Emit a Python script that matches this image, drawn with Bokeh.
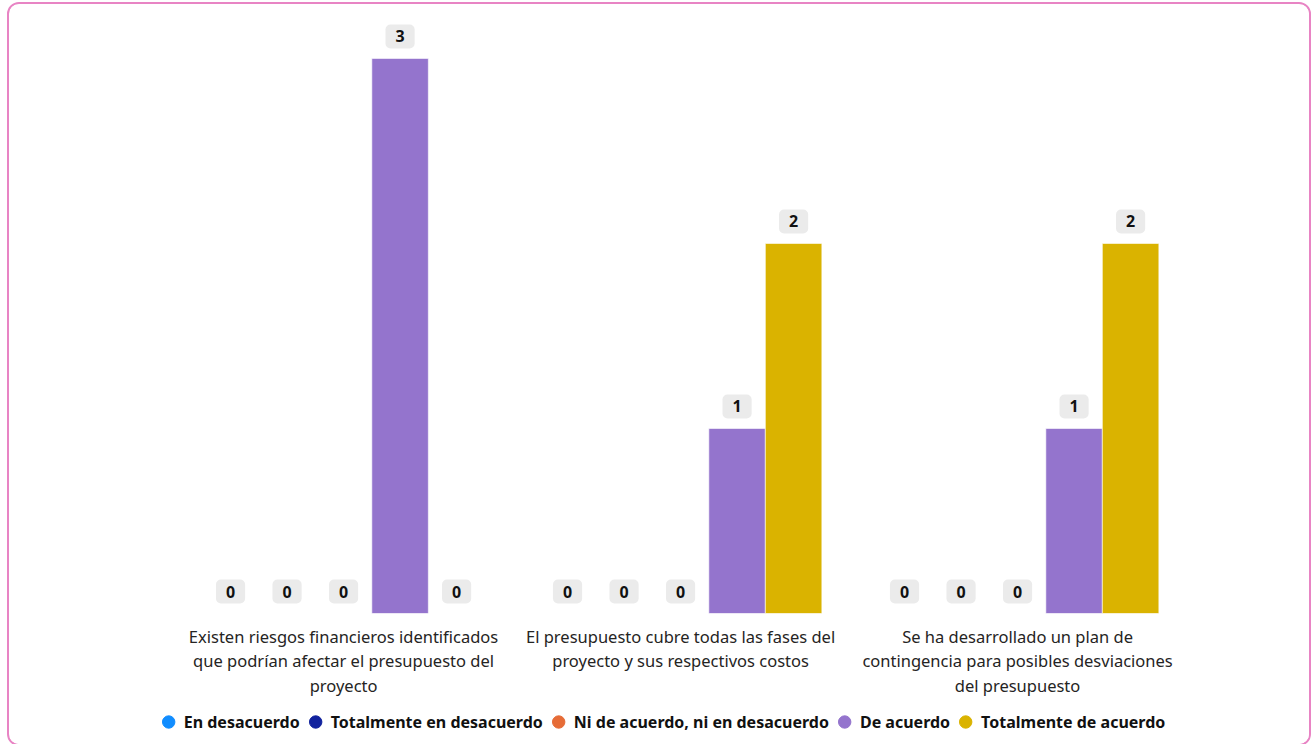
from bokeh.plotting import figure
from bokeh.layouts import column
from bokeh.models import ColumnDataSource, Range1d, FixedTicker, Legend, LegendItem
from bokeh.embed import file_html
from bokeh.resources import INLINE
from bokeh.core.properties import value

# --- data -----------------------------------------------------------------
categories = [
    "Existen riesgos financieros identificados\nque podrían afectar el presupuesto del\nproyecto",
    "El presupuesto cubre todas las fases del\nproyecto y sus respectivos costos",
    "Se ha desarrollado un plan de\ncontingencia para posibles desviaciones\ndel presupuesto",
]
series = [
    "En desacuerdo",
    "Totalmente en desacuerdo",
    "Ni de acuerdo, ni en desacuerdo",
    "De acuerdo",
    "Totalmente de acuerdo",
]
counts = {
    "En desacuerdo": [0, 0, 0],
    "Totalmente en desacuerdo": [0, 0, 0],
    "Ni de acuerdo, ni en desacuerdo": [0, 0, 0],
    "De acuerdo": [3, 1, 1],
    "Totalmente de acuerdo": [0, 2, 2],
}
colors = ["#118dff", "#12239e", "#e66c37", "#9474cd", "#dab300"]

FONT = "Noto Sans"
BAR_W = 0.1677
W = 1300


def bare(fig):
    fig.outline_line_color = None
    fig.background_fill_color = "white"
    fig.border_fill_color = "white"
    fig.xgrid.visible = False
    fig.ygrid.visible = False


# --- bar chart ------------------------------------------------------------
p = figure(width=W, height=700, output_backend="svg", toolbar_location=None,
           x_range=Range1d(-0.926, 2.801), y_range=Range1d(0, 3.205),
           min_border_left=22, min_border_right=22, min_border_top=16,
           min_border_bottom=91)
bare(p)
p.yaxis.visible = False

for i, (name, col) in enumerate(zip(series, colors)):
    offset = (i - 2) * BAR_W
    xs = [k + offset for k in range(len(categories))]
    vals = counts[name]
    src = ColumnDataSource(dict(x=xs, top=vals, label=[str(v) for v in vals]))
    p.vbar(x="x", top="top", width=BAR_W, source=src, fill_color=col,
           line_color="white", line_width=0.6)
    p.text(x="x", y="top", text="label", source=src, text_align="center",
           text_baseline="middle", y_offset=-22, text_font=value(FONT),
           text_font_size="16px", text_font_style="bold", text_color="#111111",
           background_fill_color="#ebebeb", border_radius=5, padding=(10, 6))

ax = p.xaxis[0]
ax.ticker = FixedTicker(ticks=list(range(len(categories))))
ax.major_label_overrides = {i: c for i, c in enumerate(categories)}
ax.axis_line_color = None
ax.major_tick_line_color = None
ax.minor_tick_line_color = None
ax.major_label_text_font = FONT
ax.major_label_text_font_size = "16.5px"
ax.major_label_text_color = "#252423"
ax.major_label_text_line_height = 1.07
ax.major_label_standoff = 5

# --- legend strip ---------------------------------------------------------
lg = figure(width=W, height=40, output_backend="svg", toolbar_location=None,
            x_range=Range1d(0, 1), y_range=Range1d(0, 1),
            min_border=0)
bare(lg)
lg.xaxis.visible = False
lg.yaxis.visible = False

legend_items = []
for name, col in zip(series, colors):
    # swatch renderer: one circle kept outside the visible range
    r = lg.scatter(x=[-5], y=[-5], marker="circle", fill_color=col, line_color=col)
    legend_items.append(LegendItem(label=name, renderers=[r]))

legend = Legend(items=legend_items, orientation="horizontal", location="top_center",
                glyph_width=31, glyph_height=31, label_standoff=-8, spacing=0,
                label_text_font=FONT, label_text_font_size="16px",
                label_text_font_style="bold", label_text_color="#111111",
                border_line_color=None, background_fill_alpha=0, padding=0,
                margin=2)
lg.add_layout(legend, "center")

page = column(p, lg, spacing=0,
              styles={"margin-left": "7px", "margin-top": "2px",
                      "border": "2px solid #e884c4", "border-radius": "12px",
                      "overflow": "hidden"})

open("out.html", "w").write(file_html(page, INLINE))
